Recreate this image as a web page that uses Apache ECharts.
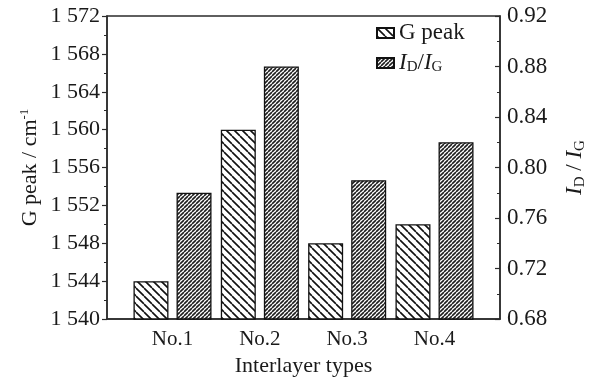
<!DOCTYPE html>
<html>
<head>
<meta charset="utf-8">
<script src="https://cdn.jsdelivr.net/npm/echarts@6/dist/echarts.min.js"></script>
<style>
  html, body { margin: 0; padding: 0; background: #fff; }
  #chart { width: 591px; height: 382px; }
</style>
</head>
<body>
<div id="chart"></div>
<script>
// Interlayer types and measured Raman values
const categories = ['No.1', 'No.2', 'No.3', 'No.4'];
const gPeak = [1544, 1560, 1548, 1550];      // G peak position, cm^-1
const idIg = [0.78, 0.88, 0.79, 0.82];       // intensity ratio I_D / I_G

const FONT = '"Liberation Serif", "DejaVu Serif", serif';
const INK = '#1a1a1a';
const LINE = '#2b2b2b';

// Hatch fill: parallel diagonal strokes on white
function hatch(size, dir, lineWidth, color) {
  const c = document.createElement('canvas');
  c.width = size; c.height = size;
  const g = c.getContext('2d');
  g.fillStyle = '#fff';
  g.fillRect(0, 0, size, size);
  g.strokeStyle = color;
  g.lineWidth = lineWidth;
  g.beginPath();
  for (let k = -1; k <= 1; k++) {
    if (dir > 0) { // "/" strokes
      g.moveTo(k * size, size);
      g.lineTo(k * size + size, 0);
    } else {        // "\" strokes
      g.moveTo(k * size, 0);
      g.lineTo(k * size + size, size);
    }
  }
  g.stroke();
  return { image: c, repeat: 'repeat' };
}

const gFill = hatch(8, -1, 1.6, '#111');
const rFill = hatch(4, 1, 1.6, '#1e1e1e');

const chart = echarts.init(document.getElementById('chart'), null, { renderer: 'canvas' });

chart.setOption({
  backgroundColor: '#fff',
  animation: false,
  grid: {
    left: 107, right: 91, top: 16, bottom: 63,
    outerBoundsMode: 'none',
    containLabel: false,
    show: true, borderColor: LINE, borderWidth: 1.5, backgroundColor: 'transparent'
  },
  legend: {
    orient: 'vertical',
    left: 371, top: 16,
    itemWidth: 17, itemHeight: 10, itemGap: 6,
    icon: 'rect',
    textStyle: {
      fontFamily: FONT, fontSize: 23, color: INK, lineHeight: 24,
      rich: {
        i: { fontFamily: FONT, fontSize: 23, fontStyle: 'italic', color: INK, lineHeight: 24 },
        s: { fontFamily: FONT, fontSize: 15, color: INK, lineHeight: 24, verticalAlign: 'bottom' },
        t: { fontFamily: FONT, fontSize: 23, color: INK, lineHeight: 24 }
      }
    },
    formatter: function (name) {
      if (name === 'ID/IG') return '{i|I}{s|D}{t|/}{i|I}{s|G}';
      return name;
    },
    data: ['G peak', 'ID/IG']
  },
  xAxis: {
    type: 'value',
    min: 0.25, max: 4.75,
    name: 'Interlayer types',
    nameLocation: 'middle',
    nameGap: 36,
    nameMoveOverlap: false,
    nameTextStyle: { fontFamily: FONT, fontSize: 22, color: INK },
    splitLine: { show: false },
    axisLine: { show: true, lineStyle: { color: LINE, width: 1.5 } },
    axisTick: { show: false },
    axisLabel: {
      customValues: [1, 2, 3, 4],
      formatter: function (v) { return categories[Math.round(v) - 1] || ''; },
      fontFamily: FONT, fontSize: 21, color: INK, margin: 10
    }
  },
  yAxis: [
    {
      type: 'value',
      min: 1540, max: 1572, interval: 4,
      position: 'left',
      name: 'G peak / cm{sup|-1}',
      nameLocation: 'middle',
      nameRotate: 90,
      nameGap: 65,
      nameMoveOverlap: false,
      nameTextStyle: {
        fontFamily: FONT, fontSize: 22, color: INK, lineHeight: 24,
        rich: {
          sup: { fontFamily: FONT, fontSize: 13, color: INK, lineHeight: 24, verticalAlign: 'top' }
        }
      },
      splitLine: { show: false },
      axisLine: { show: true, lineStyle: { color: LINE, width: 1.5 } },
      axisTick: { show: true, inside: false, length: 5, lineStyle: { color: LINE, width: 1.2 } },
      minorTick: { show: true, splitNumber: 2, length: 3, lineStyle: { color: LINE, width: 1 } },
      axisLabel: {
        fontFamily: FONT, fontSize: 22, color: INK, margin: 7,
        formatter: function (v) { return String(v).replace(/^(\d)(\d{3})$/, '$1 $2'); }
      }
    },
    {
      type: 'value',
      min: 0.68, max: 0.92, interval: 0.04,
      position: 'right',
      name: '{i|I}{s|D}{t| / }{i|I}{s|G}',
      nameLocation: 'middle',
      nameRotate: 90,
      nameGap: 62,
      nameMoveOverlap: false,
      nameTextStyle: {
        fontFamily: FONT, fontSize: 23, color: INK, lineHeight: 26,
        rich: {
          i: { fontFamily: FONT, fontSize: 23, fontStyle: 'italic', color: INK, lineHeight: 26 },
          s: { fontFamily: FONT, fontSize: 15, color: INK, lineHeight: 26, verticalAlign: 'bottom' },
          t: { fontFamily: FONT, fontSize: 23, color: INK, lineHeight: 26 }
        }
      },
      splitLine: { show: false },
      axisLine: { show: true, lineStyle: { color: LINE, width: 1.5 } },
      axisTick: { show: true, inside: true, length: 5, lineStyle: { color: LINE, width: 1.2 } },
      minorTick: { show: true, splitNumber: 2, length: 3, lineStyle: { color: LINE, width: 1 } },
      axisLabel: {
        fontFamily: FONT, fontSize: 23, color: INK, margin: 7,
        formatter: function (v) { return v.toFixed(2); }
      }
    }
  ],
  series: [
    {
      name: 'G peak',
      type: 'bar',
      yAxisIndex: 0,
      barWidth: 35,
      barGap: '23%',
      clip: true,
      itemStyle: { color: gFill, borderColor: '#111', borderWidth: 1.3 },
      data: categories.map((c, i) => [i + 1, gPeak[i]])
    },
    {
      name: 'ID/IG',
      type: 'bar',
      yAxisIndex: 1,
      barWidth: 35,
      barGap: '23%',
      clip: true,
      itemStyle: { color: rFill, borderColor: '#111', borderWidth: 1.3 },
      data: categories.map((c, i) => [i + 1, idIg[i]])
    }
  ]
});
</script>
</body>
</html>
